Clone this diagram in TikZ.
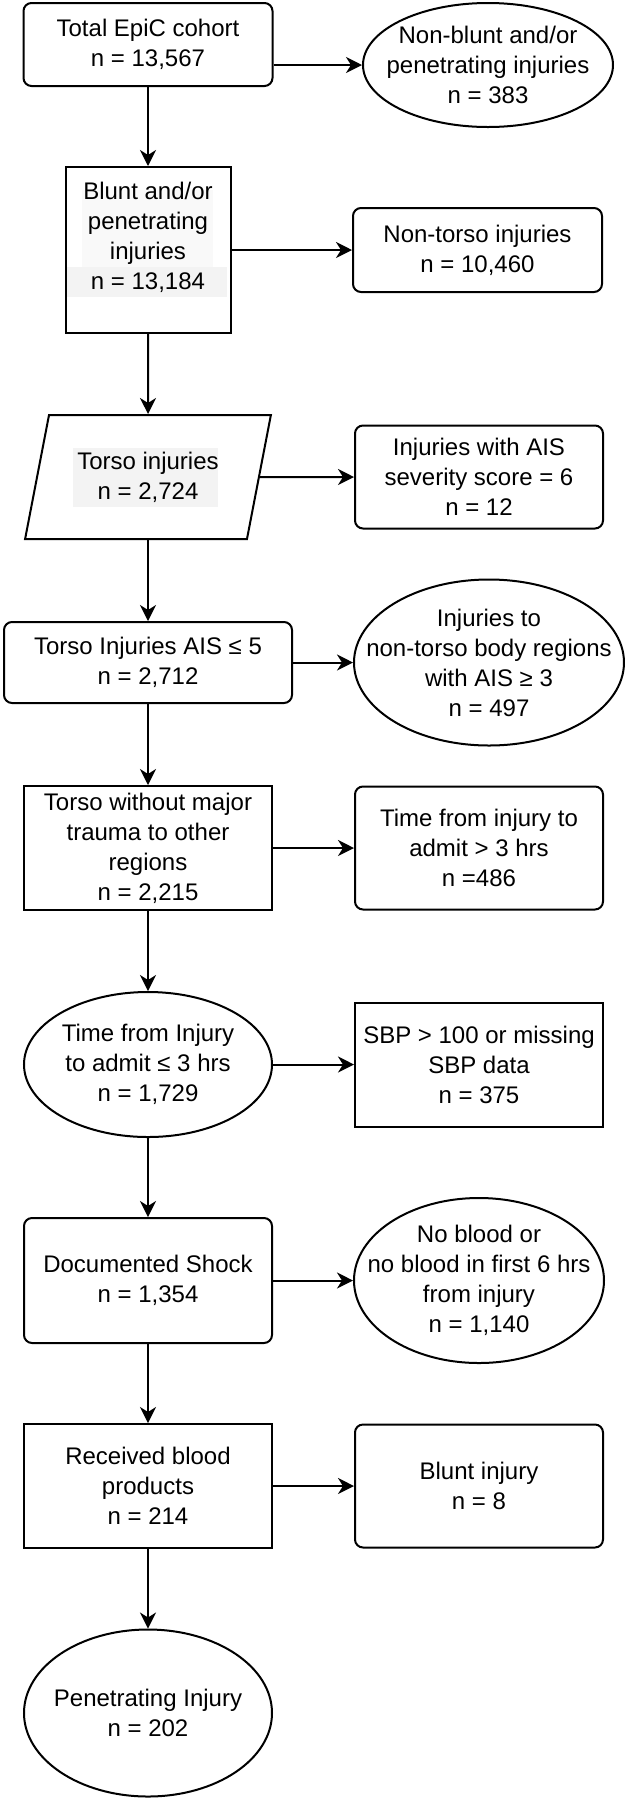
\documentclass[tikz,border=0pt]{standalone}
\usepackage{fontspec}
\setmainfont{Liberation Sans}
\usetikzlibrary{shapes.geometric,arrows.meta}
\definecolor{hlgray}{HTML}{F3F3F3}
\tikzset{
  wh/.style 2 args={minimum width=#1*0.5pt,minimum height=#2*0.5pt},
  box/.style={rectangle},
  rbox/.style={rectangle,rounded corners=4pt},
  oval/.style={ellipse,inner xsep=-20pt,inner ysep=-10pt},
  slant/.style={trapezium,trapezium left angle=71.3,trapezium right angle=108.7,
    trapezium stretches=true}
}
\begin{document}
\begin{tikzpicture}[x=0.5pt,y=-0.5pt,
    every node/.style={draw,line width=1pt,align=center,inner sep=0pt,
      font=\fontsize{12}{15}\selectfont}]
      \useasboundingbox (0,0) rectangle (625,1800);
      \fill[hlgray!50] (82,190) rectangle (213,267);
      \fill[hlgray] (67,267) rectangle (227,297);
      \fill[hlgray] (73,448) rectangle (218,507);
      \draw
        (148,44.5) node[rbox,wh={249}{83}] (total) {Total EpiC cohort\\n = 13,567}
        (488,65) node[oval,wh={250}{124}] (nonblunt) {Non-blunt and/or\\penetrating injuries\\n = 383}
        (148,250) node[box,wh={165}{166}] (blunt) {Blunt and/or\\penetrating\\injuries\\n = 13,184\\[-5pt]\strut}
        (477.5,250) node[rbox,wh={249}{84}] (nontorso) {Non-torso injuries\\n = 10,460}
        (148,477) node[slant,wh={248}{124}] (torso) {Torso injuries\\n = 2,724}
        (479,477) node[rbox,wh={248}{103}] (ais6) {Injuries with AIS\\severity score = 6\\n = 12}
        (148,662.5) node[rbox,wh={288}{81}] (ais5) {Torso Injuries AIS ≤ 5\\n = 2,712}
        (489,662.5) node[oval,wh={270}{166}] (otherreg) {Injuries to\\non-torso body regions\\with AIS ≥ 3\\n = 497}
        (148,848) node[box,wh={248}{124}] (nomajor) {Torso without major\\trauma to other\\regions\\n = 2,215}
        (479,848) node[rbox,wh={248}{123}] (late) {Time from injury to\\admit > 3 hrs\\n =486}
        (148,1064.5) node[oval,wh={248}{145}] (early) {Time from Injury\\to admit ≤ 3 hrs\\n = 1,729}
        (479,1064.5) node[box,wh={248}{124}] (sbp) {SBP > 100 or missing\\SBP data\\n = 375}
        (148,1280.5) node[rbox,wh={248}{125}] (shock) {Documented Shock\\n = 1,354}
        (479,1280.5) node[oval,wh={250}{165}] (noblood) {No blood or\\no blood in first 6 hrs\\from injury\\n = 1,140}
        (148,1486) node[box,wh={248}{124}] (blood) {Received blood\\products\\n = 214}
        (479,1486) node[rbox,wh={248}{123}] (bluntinj) {Blunt injury\\n = 8}
        (148,1713) node[oval,wh={248}{167}] (pen) {Penetrating Injury\\n = 202};
      \begin{scope}[line width=1pt,-{Stealth[length=8pt,width=8pt,inset=2.5pt]}]
        \draw (total) to (blunt);
        \draw (total.east |- nonblunt.west) to (nonblunt.west);
        \draw (blunt) to (nontorso);
        \draw (blunt) to (torso);
        \draw (torso) to (ais6);
        \draw (torso) to (ais5);
        \draw (ais5) to (otherreg);
        \draw (ais5) to (nomajor);
        \draw (nomajor) to (late);
        \draw (nomajor) to (early);
        \draw (early) to (sbp);
        \draw (early) to (shock);
        \draw (shock) to (noblood);
        \draw (shock) to (blood);
        \draw (blood) to (bluntinj);
        \draw (blood) to (pen);
      \end{scope}
    \end{tikzpicture}
\end{document}
